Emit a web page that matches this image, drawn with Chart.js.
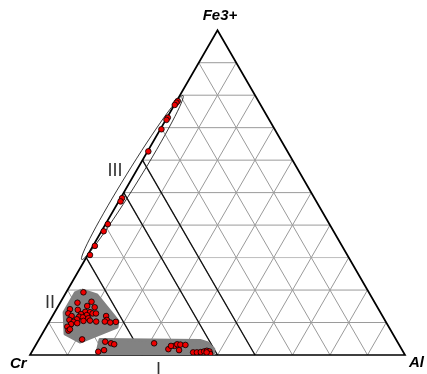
<!DOCTYPE html>
<html>
<head>
<meta charset="utf-8">
<script src="https://cdn.jsdelivr.net/npm/chart.js@4/dist/chart.umd.min.js"></script>
<style>
html,body{margin:0;padding:0;background:#fff;}
#wrap{width:427px;height:374px;position:relative;}
</style>
</head>
<body>
<div id="wrap"><canvas id="ternChart"></canvas></div>
<script>
// compositions in percent, Cr = 100 - Al - Fe3+

// FIELD I (Al-rich, low Fe3+)
const fieldI_fe = [4.1,3.6,3.3,1.5,1.0,3.6,1.8,2.8,3.3,3.2,3.1,1.5,0.8,0.8,0.9,1.1,1.3,1.1,0.3,0.8,2.8];
const fieldI_al = [18.0,19.8,20.8,19.0,17.7,31.3,36.0,37.1,37.6,38.5,39.9,39.0,43.1,44.1,45.1,45.9,46.5,47.3,47.9,46.7,36.2];

// FIELD II (Cr-rich)
const fieldII_fe = [19.3,16.1,16.4,15.1,14.1,13.9,14.7,13.3,13.2,12.8,12.6,12.3,12.8,12.8,12.0,11.8,11.6,11.3,10.8,11.0,10.2,10.5,10.6,10.3,12.0,10.8,10.3,10.0,10.2,9.5,8.7,9.8,7.5,7.9,4.8];
const fieldII_al = [4.6,4.6,8.2,7.7,3.6,5.8,9.9,8.1,9.4,3.8,7.3,9.0,10.3,11.2,5.1,7.2,8.3,9.9,5.1,7.0,6.5,9.0,10.7,12.5,14.3,15.1,14.8,16.4,17.8,6.2,5.6,7.7,6.5,6.7,11.5];

// FIELD III (Cr-Fe3+ join)
const fieldIII_fe = [78.2,77.7,77.0,73.1,72.4,69.5,62.7,48.3,47.3,40.3,38.1,33.6,30.8];
const fieldIII_al = [0.3,0.2,0.1,0.2,0.2,0.3,0.2,0.4,0.5,0.6,0.6,0.5,0.6];

// shaded hulls
const hullI_fe = [0.4,4.8,4.5,3.7,1.9,0.4];
const hullI_al = [17.6,16.3,43.1,45.6,47.9,48.8];
const hullII_fe = [20.0,18.5,10.5,8.6,4.0,6.5,13.2,19.1];
const hullII_al = [3.8,8.6,18.2,18.9,11.3,6.1,2.5,2.5];

// ellipse III ends
const ellipseIII_fe = [29.4,79.9];
const ellipseIII_al = [-0.9,0.85];

// grid
const gridSteps = [10,20,30,40,50,60,70,80,90];
const boldCrLines = [70,50,40];

const H = Math.sqrt(3)/2;

function toXY(al,fe){
return {x:(al+fe/2)/100, y:fe/100*H};
}

function points(alArr,feArr,close){
let pts = alArr.map((a,i)=>toXY(a,feArr[i]));
if(close) pts.push(pts[0]);
return pts;
}

// DRAWING PLUGIN

const ternaryPlugin = {
id:"ternary",
beforeDatasetsDraw(chart){
const ctx = chart.ctx;
const xs = chart.scales.x, ys = chart.scales.y;
const P = (al,fe)=>{
let p = toXY(al,fe);
return [xs.getPixelForValue(p.x), ys.getPixelForValue(p.y)];
};
const seg = (a,b,color,w)=>{
ctx.beginPath();
ctx.moveTo(a[0],a[1]);
ctx.lineTo(b[0],b[1]);
ctx.strokeStyle = color;
ctx.lineWidth = w;
ctx.stroke();
};
ctx.save();

// gray grid
gridSteps.forEach(v=>{
seg(P(0,v), P(100-v,v), v===30 ? "#bdbdbd" : "#9a9a9a", 1);
seg(P(100-v,0), P(0,100-v), "#9a9a9a", 1);
seg(P(v,0), P(v,100-v), "#9a9a9a", 1);
});

// classification lines
boldCrLines.forEach(c=>{
seg(P(100-c,0), P(0,100-c), "#111", 1.3);
});

// triangle
ctx.beginPath();
let a = P(0,0), b = P(100,0), t = P(0,100);
ctx.moveTo(a[0],a[1]);
ctx.lineTo(b[0],b[1]);
ctx.lineTo(t[0],t[1]);
ctx.closePath();
ctx.strokeStyle = "#000";
ctx.lineWidth = 1.7;
ctx.lineJoin = "miter";
ctx.stroke();

// ellipse III
let e1 = P(ellipseIII_al[0], ellipseIII_fe[0]);
let e2 = P(ellipseIII_al[1], ellipseIII_fe[1]);
let cx = (e1[0]+e2[0])/2, cy = (e1[1]+e2[1])/2;
let rx = Math.hypot(e2[0]-e1[0], e2[1]-e1[1])/2;
let rot = Math.atan2(e2[1]-e1[1], e2[0]-e1[0]);
ctx.beginPath();
ctx.ellipse(cx, cy, rx, 6.5, rot, 0, Math.PI*2);
ctx.strokeStyle = "#222";
ctx.lineWidth = 0.9;
ctx.stroke();

ctx.restore();
},
afterDraw(chart){
const ctx = chart.ctx;
ctx.save();
ctx.fillStyle = "#000";
ctx.font = "italic bold 15px 'Liberation Sans', Arial, sans-serif";
ctx.textBaseline = "alphabetic";
ctx.textAlign = "center";
ctx.fillText("Fe3+", 220, 20);
ctx.textAlign = "left";
ctx.fillText("Cr", 10, 368);
ctx.fillText("Al", 409, 367);

ctx.fillStyle = "#333";
ctx.font = "18px 'Liberation Sans', Arial, sans-serif";
ctx.textAlign = "center";
ctx.fillText("II", 50, 308);
ctx.fillText("III", 115, 176);
ctx.fillText("I", 158.5, 375);
ctx.restore();
}
};

function dotSet(alArr,feArr){
return {
type:"scatter",
data:points(alArr,feArr,false),
pointRadius:2.8,
pointBorderWidth:0.8,
pointBackgroundColor:"#ee0000",
pointBorderColor:"#000",
order:1
};
}

function hullSet(alArr,feArr){
return {
type:"line",
data:points(alArr,feArr,true),
fill:"shape",
backgroundColor:"#828282",
borderColor:"#828282",
borderWidth:3,
borderJoinStyle:"round",
pointRadius:0,
tension:0,
order:2
};
}

new Chart(
document.getElementById("ternChart"),
{
type:"scatter",
data:{
datasets:[
dotSet(fieldI_al, fieldI_fe),
dotSet(fieldII_al, fieldII_fe),
dotSet(fieldIII_al, fieldIII_fe),
hullSet(hullI_al, hullI_fe),
hullSet(hullII_al, hullII_fe)
]
},
options:{
responsive:true,
maintainAspectRatio:false,
animation:false,
layout:{padding:{left:30,right:22,top:31,bottom:19}},
scales:{
x:{type:"linear",min:0,max:1,display:false},
y:{type:"linear",min:0,max:0.864,display:false}
},
plugins:{
legend:{display:false},
tooltip:{enabled:false}
}
},
plugins:[ternaryPlugin]
}
);
</script>
</body>
</html>
